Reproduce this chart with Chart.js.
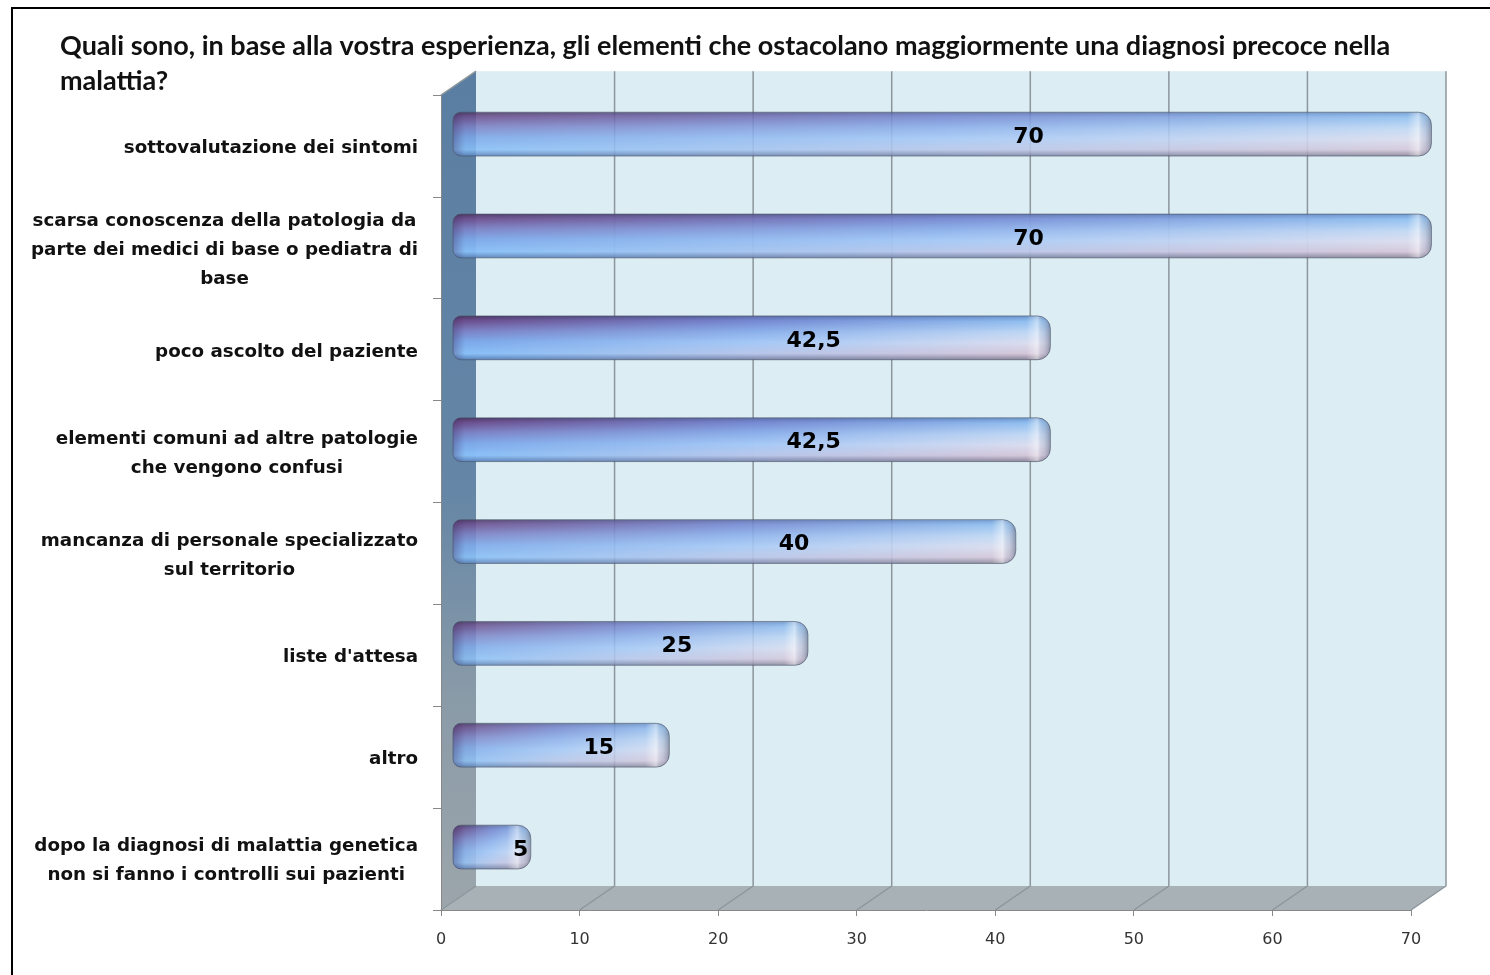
<!DOCTYPE html>
<html>
<head>
<meta charset="utf-8">
<title>Diagnosi precoce</title>
<script src="https://cdn.jsdelivr.net/npm/chart.js@4.4.1/dist/chart.umd.min.js"></script>
<style>
  body { margin: 0; background: #fff; }
  #wrap { width: 1490px; height: 975px; position: relative; }
</style>
</head>
<body>
<div id="wrap">
    <canvas id="barChartCanvas"></canvas>
</div>
<script>

const titleLines = [
    'Quali sono, in base alla vostra esperienza, gli elementi che ostacolano maggiormente una diagnosi precoce nella',
    'malattia?'
];
const categories = [
    ['sottovalutazione dei sintomi'],
    ['scarsa conoscenza della patologia da', 'parte dei medici di base o pediatra di', 'base'],
    ['poco ascolto del paziente'],
    ['elementi comuni ad altre patologie', 'che vengono confusi'],
    ['mancanza di personale specializzato', 'sul territorio'],
    ["liste d'attesa"],
    ['altro'],
    ['dopo la diagnosi di malattia genetica', 'non si fanno i controlli sui pazienti']
];
const percentages = [70, 70, 42.5, 42.5, 40, 25, 15, 5];
const valueLabels = ['70', '70', '42,5', '42,5', '40', '25', '15', '5'];
const xMin = 0, xMax = 70, xStep = 10;

// 3D depth of the plot box (back wall offset from the front plane)
const DX = 35, DY = -24;

// vertical colour profiles of the cylinder bars, sampled at its start, middle and end
const leftShade = [[0, '#4a3560'], [0.1, '#6a4a88'], [0.32, '#7a7cc0'], [0.58, '#7aa6e8'], [0.86, '#86bff8'], [1, '#5a84bc']];
const midShade = [[0, '#5a6aa4'], [0.1, '#7486d0'], [0.35, '#8aaeea'], [0.6, '#a4c8f6'], [0.86, '#b8c6ea'], [1, '#7a86aa']];
const rightShade = [[0, '#6a98d0'], [0.12, '#92c2f2'], [0.38, '#c4daf4'], [0.62, '#dedeee'], [0.86, '#d6c6d8'], [1, '#8e8698']];

function hexToRgb(h) {
    const n = parseInt(h.slice(1), 16);
    return [(n >> 16) & 255, (n >> 8) & 255, n & 255];
}

function shade(stops, t) {
    for (let i = 1; i < stops.length; i++) {
        if (t <= stops[i][0]) {
            const [t0, c0] = stops[i - 1];
            const [t1, c1] = stops[i];
            const f = (t - t0) / (t1 - t0);
            const a = hexToRgb(c0), b = hexToRgb(c1);
            return 'rgb(' + a.map((v, k) => Math.round(v + (b[k] - v) * f)).join(',') + ')';
        }
    }
    return stops[stops.length - 1][1];
}

function barPath(ctx, x0, x1, top, h, rl, rr) {
    ctx.beginPath();
    ctx.moveTo(x0 + rl, top);
    ctx.lineTo(x1 - rr, top);
    ctx.arcTo(x1, top, x1, top + rr, rr);
    ctx.lineTo(x1, top + h - rr);
    ctx.arcTo(x1, top + h, x1 - rr, top + h, rr);
    ctx.lineTo(x0 + rl, top + h);
    ctx.arcTo(x0, top + h, x0, top + h - rl, rl);
    ctx.lineTo(x0, top + rl);
    ctx.arcTo(x0, top, x0 + rl, top, rl);
    ctx.closePath();
}

const depthBox = {
    id: 'depthBox',
    beforeDraw(chart) {
        const { ctx, chartArea: a, scales: { x } } = chart;
        ctx.save();

        // frame (top and left edges)
        ctx.strokeStyle = '#000';
        ctx.lineWidth = 2;
        ctx.beginPath();
        ctx.moveTo(12, 980);
        ctx.lineTo(12, 8);
        ctx.lineTo(1490, 8);
        ctx.stroke();

        // back wall
        ctx.fillStyle = '#dcedf3';
        ctx.fillRect(a.left + DX, a.top + DY, a.right - a.left, a.bottom - a.top);

        // left side wall
        const g = ctx.createLinearGradient(0, a.top + DY, 0, a.bottom);
        g.addColorStop(0, '#5a7ea2');
        g.addColorStop(0.5, '#6586a6');
        g.addColorStop(0.75, '#8a9ba8');
        g.addColorStop(1, '#9ca5ab');
        ctx.fillStyle = g;
        ctx.beginPath();
        ctx.moveTo(a.left, a.top);
        ctx.lineTo(a.left + DX, a.top + DY);
        ctx.lineTo(a.left + DX, a.bottom + DY);
        ctx.lineTo(a.left, a.bottom);
        ctx.closePath();
        ctx.fill();

        // floor
        ctx.fillStyle = '#a7b1b6';
        ctx.beginPath();
        ctx.moveTo(a.left, a.bottom);
        ctx.lineTo(a.left + DX, a.bottom + DY);
        ctx.lineTo(a.right + DX, a.bottom + DY);
        ctx.lineTo(a.right, a.bottom);
        ctx.closePath();
        ctx.fill();

        // grid lines on back wall and floor
        ctx.strokeStyle = '#8c969b';
        ctx.lineWidth = 1.5;
        x.ticks.forEach((t, i) => {
            const px = x.getPixelForTick(i);
            ctx.beginPath();
            if (i > 0) {
                ctx.moveTo(px + DX, a.top + DY);
                ctx.lineTo(px + DX, a.bottom + DY);
            }
            ctx.moveTo(px, a.bottom);
            ctx.lineTo(px + DX, a.bottom + DY);
            ctx.stroke();
        });
        ctx.beginPath();
        ctx.moveTo(a.left, a.top);
        ctx.lineTo(a.left + DX, a.top + DY);
        ctx.stroke();
        ctx.restore();
    },
    afterDatasetsDraw(chart) {
        const { ctx } = chart;
        const meta = chart.getDatasetMeta(0);
        ctx.save();
        ctx.translate(DX / 2, DY / 2);
        meta.data.forEach((bar) => {
            const { x, y, base, height } = bar.getProps(['x', 'y', 'base', 'height'], true);
            const x0 = base - 6, x1 = x + 3;
            const top = y - height / 2;
            const rr = Math.min(13, (x1 - x0) / 2), rl = 8;

            ctx.save();
            barPath(ctx, x0, x1, top, height, rl, rr);
            ctx.clip();
            for (let i = 0; i < height; i++) {
                const t = (i + 0.5) / height;
                const lg = ctx.createLinearGradient(x0, 0, x1, 0);
                lg.addColorStop(0, shade(leftShade, t));
                lg.addColorStop(0.5, shade(midShade, t));
                lg.addColorStop(1, shade(rightShade, t));
                ctx.fillStyle = lg;
                ctx.fillRect(x0, top + i, x1 - x0, 1.2);
            }
            // rounded end cap
            const cap = ctx.createLinearGradient(x1 - 24, 0, x1, 0);
            cap.addColorStop(0, 'rgba(255,255,255,0)');
            cap.addColorStop(0.45, 'rgba(255,255,255,0.45)');
            cap.addColorStop(0.7, 'rgba(150,160,185,0.25)');
            cap.addColorStop(1, 'rgba(80,90,115,0.55)');
            ctx.fillStyle = cap;
            ctx.fillRect(x1 - 24, top, 24, height);
            // darker start
            const st = ctx.createLinearGradient(x0, 0, x0 + 12, 0);
            st.addColorStop(0, 'rgba(60,40,90,0.35)');
            st.addColorStop(1, 'rgba(60,40,90,0)');
            ctx.fillStyle = st;
            ctx.fillRect(x0, top, 12, height);
            ctx.restore();

            barPath(ctx, x0, x1, top, height, rl, rr);
            ctx.strokeStyle = 'rgba(70,80,100,0.6)';
            ctx.lineWidth = 1;
            ctx.stroke();
        });
        ctx.restore();
    },
    afterDraw(chart) {
        const { ctx, scales: { x, y } } = chart;
        const meta = chart.getDatasetMeta(0);
        ctx.save();

        // category labels: block right-aligned, lines centred within the block
        ctx.font = 'bold 18.3px "DejaVu Sans"';
        ctx.fillStyle = '#111';
        ctx.textAlign = 'center';
        ctx.textBaseline = 'middle';
        const lineH = 29;
        categories.forEach((lines, i) => {
            const cy = y.getPixelForValue(i) + 2;
            const w = Math.max(...lines.map(l => ctx.measureText(l).width));
            const cx = 418 - w / 2;
            lines.forEach((l, k) => {
                ctx.fillText(l, cx, cy + (k - (lines.length - 1) / 2) * lineH);
            });
        });

        // value labels on the bars
        ctx.font = 'bold 22px "DejaVu Sans"';
        ctx.fillStyle = '#000';
        meta.data.forEach((bar, i) => {
            const px = x.getPixelForValue(percentages[i] * 0.564) + DX / 2 + 23;
            ctx.fillText(valueLabels[i], px, bar.y + DY / 2 + 3);
        });
        ctx.restore();
    }
};

const barCtx = document.getElementById('barChartCanvas').getContext('2d');

new Chart(barCtx, {
    type: 'bar',
    data: {
        labels: categories,
        datasets: [{
            data: percentages,
            backgroundColor: 'rgba(0,0,0,0)',
            borderWidth: 0,
            barPercentage: 0.43,
            categoryPercentage: 1
        }]
    },
    options: {
        indexAxis: 'y',
        responsive: true,
        maintainAspectRatio: false,
        animation: false,
        layout: { padding: { left: 60, right: 79, top: 0, bottom: 0 } },
        plugins: {
            legend: { display: false },
            tooltip: { enabled: false },
            title: {
                display: true,
                text: titleLines,
                align: 'start',
                color: '#111',
                font: { family: 'Lato', size: 27, weight: 'bold', lineHeight: 1.3 },
                padding: { top: 29, bottom: -4 }
            }
        },
        scales: {
            x: {
                min: xMin,
                max: xMax,
                ticks: { stepSize: xStep, color: '#333', padding: 14, font: { family: 'DejaVu Sans', size: 16 } },
                grid: { drawOnChartArea: false, drawTicks: true, tickLength: 6, color: '#888' },
                border: { display: true, color: '#888' },
                afterFit: (s) => { s.height = 65; }
            },
            y: {
                ticks: { display: false },
                grid: { drawOnChartArea: false, drawTicks: true, tickLength: 8, color: '#888', offset: true },
                border: { display: true, color: '#888' },
                afterFit: (s) => { s.width = 381; }
            }
        }
    },
    plugins: [depthBox]
});

</script>
</body>
</html>
